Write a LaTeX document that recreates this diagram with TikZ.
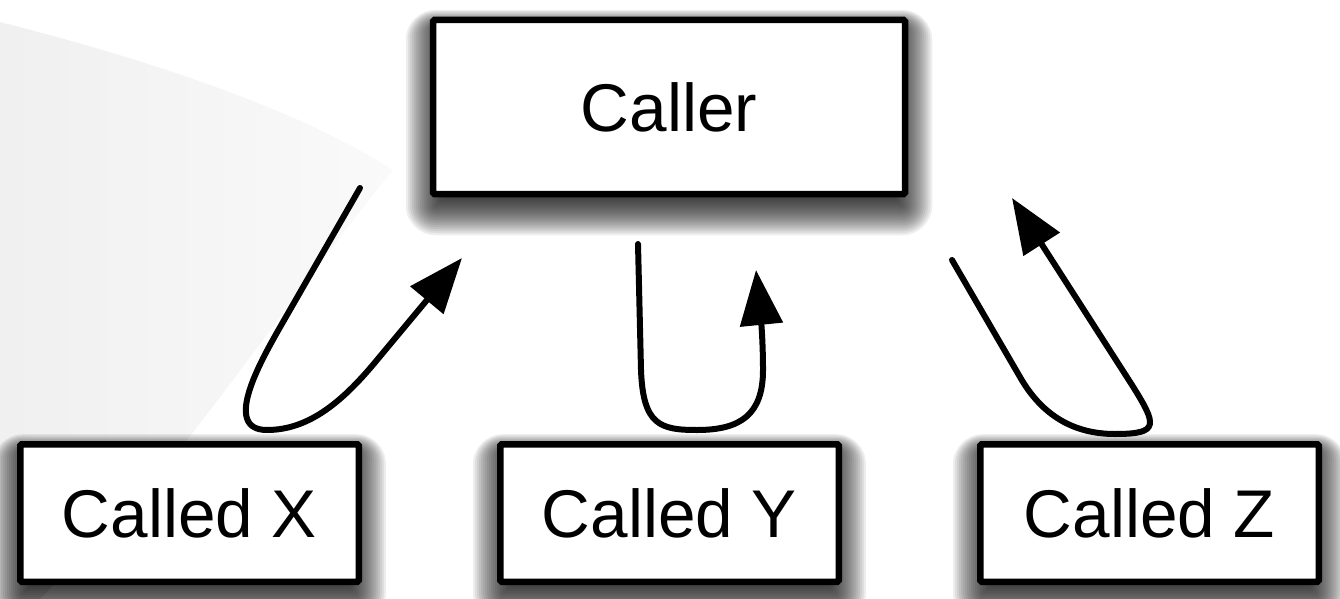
\documentclass[tikz,border=0pt]{standalone}
\usepackage{fontspec}
\setmainfont{Liberation Sans}
\usetikzlibrary{arrows.meta}
\pgfdeclarelayer{bgzero}
\pgfdeclarelayer{bgshadow}
\pgfsetlayers{bgzero,bgshadow,main}
\tikzset{
  box/.style={draw=black, line width=6.5pt, fill=white, rounded corners=1.5pt,
    font=\fontsize{67.5}{80}\selectfont},
  shadowlayer/.style={fill=black, opacity=0.065},
  conn/.style={line width=6pt, line cap=round, line join=round,
    -{Triangle[length=55pt,width=42pt]}},
}
\begin{document}
\begin{tikzpicture}[x=1pt,y=-1pt]
\useasboundingbox (0,0) rectangle (1340,599);
% nodes
\node[box, minimum width=472pt, minimum height=174pt] (caller) at (669,107) {Caller};
\node[box, minimum width=338.5pt, minimum height=137.5pt] (cx) at (189.5,513) {Called X};
\node[box, minimum width=338.5pt, minimum height=137.5pt] (cy) at (669.5,513) {Called Y};
\node[box, minimum width=338.5pt, minimum height=137.5pt] (cz) at (1149.5,513) {Called Z};
% faint background swoosh
\begin{pgfonlayer}{bgzero}
\shade[left color=black!6, right color=black!2]
  (0,22) .. controls (150,60) and (300,110) .. (393,170)
  .. controls (320,260) and (250,360) .. (187,440)
  -- (40,599) -- (0,599) -- cycle;
\end{pgfonlayer}
% soft drop shadows
\begin{pgfonlayer}{bgshadow}
\foreach \n in {caller,cx,cy,cz}{
  \foreach \r [evaluate=\r as \xl using -\r+4,
               evaluate=\r as \xr using \r-4,
               evaluate=\r as \yb using -\r-10,
               evaluate=\r as \yt using 0.6*\r-10,
               evaluate=\r as \rc using {max(\r,0)+2}] in {-10,-8,...,28}{
    \fill[shadowlayer, rounded corners=\rc pt]
      ([xshift=\xl pt, yshift=\yb pt]\n.south west)
      rectangle ([xshift=\xr pt, yshift=\yt pt]\n.north east);
  }
}
\end{pgfonlayer}
% connector end points
\coordinate (xs) at (360,188);
\coordinate (xt) at (462,258);
\coordinate (ys) at (638,244);
\coordinate (yt) at (756,270);
\coordinate (zs) at (952,260);
\coordinate (zt) at (1012,198);
% connectors
\draw[conn] (xs) -- (283,322) .. controls (263,357) and (220,430) .. (267,430)
  .. controls (310,430) and (344,400) .. (377,360) -- (xt);
\draw[conn] (ys) -- (641,370) .. controls (643,425) and (660,430) .. (697,430)
  .. controls (740,430) and (763,415) .. (763,370)
  .. controls (763,330) and (759,300) .. (yt);
\draw[conn] (zs) -- (1020,377) .. controls (1040,412) and (1070,434) .. (1115,434)
  .. controls (1160,434) and (1157,425) .. (1132,385) -- (zt);
\end{tikzpicture}
\end{document}
